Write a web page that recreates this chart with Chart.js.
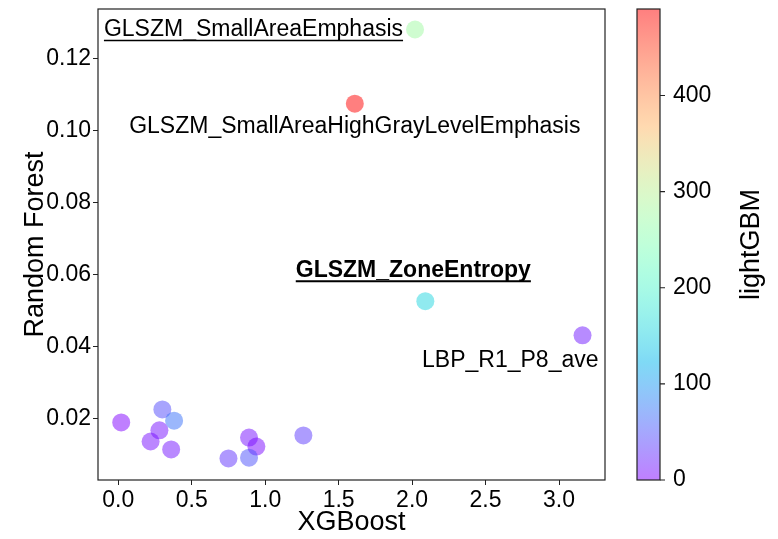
<!DOCTYPE html>
<html>
<head>
<meta charset="utf-8">
<script src="https://cdn.jsdelivr.net/npm/chart.js@4.4.1/dist/chart.umd.min.js"></script>
<style>
  html, body { margin: 0; padding: 0; background: #fff; overflow: hidden; }
  canvas { display: block; }
</style>
</head>
<body>
<canvas id="myChart" width="778" height="539"></canvas>
<script>
// data
const xgboost = [2.02, 1.61, 2.09, 3.16, 0.02, 0.30, 0.38, 0.28, 0.22, 0.36, 0.75, 0.89, 0.94, 0.89, 1.26];
const randomForest = [0.1281, 0.1075, 0.0526, 0.0431, 0.0189, 0.0225, 0.0194, 0.0167, 0.0136, 0.0114, 0.0089, 0.0147, 0.0122, 0.0091, 0.0153];
const lightgbm = [275, 490, 155, 15, 0, 45, 70, 10, 8, 12, 30, 10, 5, 50, 35];
const featureNames = ["GLSZM_SmallAreaEmphasis", "GLSZM_SmallAreaHighGrayLevelEmphasis", "GLSZM_ZoneEntropy", "LBP_R1_P8_ave"];

const xTicks = [0, 0.5, 1, 1.5, 2, 2.5, 3];
const yTicks = [0.02, 0.04, 0.06, 0.08, 0.10, 0.12];
const cbTicks = [0, 100, 200, 300, 400];

const FONT = "'Liberation Sans', Arial, Helvetica, sans-serif";
const cbMin = Math.min(...lightgbm);
const cbMax = Math.max(...lightgbm);

// matplotlib "rainbow" colormap
function rainbow(t, a) {
  const c = v => Math.round(255 * Math.max(0, Math.min(1, v)));
  const r = Math.abs(2 * t - 0.5);
  const g = Math.sin(Math.PI * t);
  const b = Math.cos(Math.PI * t / 2);
  return `rgba(${c(r)},${c(g)},${c(b)},${a})`;
}

const pointColors = lightgbm.map(v => rainbow((v - cbMin) / (cbMax - cbMin), 0.5));

// how each annotated feature is placed relative to its point (pixels)
const labelStyle = [
  { align: "right", dx: -12, dy: 0, bold: false, underline: true },
  { align: "center", dx: 0, dy: 23, bold: false, underline: false },
  { align: "center", dx: -12, dy: -31, bold: true, underline: true },
  { align: "right", dx: 16, dy: 25, bold: false, underline: false }
];

// keep the tick-label padding from pushing the plot area around
function fixSize(w, h) {
  return s => {
    if (w) s.width = w;
    if (h) s.height = h;
    s.paddingTop = 0; s.paddingBottom = 0; s.paddingLeft = 0; s.paddingRight = 0;
  };
}

const extras = {
  id: "extras",
  afterDatasetsDraw(chart) {
    const ctx = chart.ctx;
    const xs = chart.scales.x, ys = chart.scales.y, cb = chart.scales.cb;
    const area = chart.chartArea;

    // annotations
    featureNames.forEach((name, i) => {
      const st = labelStyle[i];
      const px = xs.getPixelForValue(xgboost[i]) + st.dx;
      const py = ys.getPixelForValue(randomForest[i]) + st.dy;
      ctx.save();
      ctx.font = (st.bold ? "bold " : "") + "23px " + FONT;
      ctx.fillStyle = "#000";
      ctx.textAlign = st.align;
      ctx.textBaseline = "middle";
      ctx.fillText(name, px, py);
      if (st.underline) {
        const w = ctx.measureText(name).width;
        let x0 = px;
        if (st.align === "right") x0 = px - w;
        if (st.align === "center") x0 = px - w / 2;
        ctx.strokeStyle = "#000";
        ctx.lineWidth = st.bold ? 2 : 1.5;
        ctx.beginPath();
        ctx.moveTo(x0, py + 11);
        ctx.lineTo(x0 + w, py + 11);
        ctx.stroke();
      }
      ctx.restore();
    });

    // frame round the plot
    ctx.save();
    ctx.strokeStyle = "#222";
    ctx.lineWidth = 1.2;
    ctx.strokeRect(area.left, area.top, area.right - area.left, area.bottom - area.top);

    // colorbar
    const bx = area.right + 32, bw = 23;
    const top = cb.getPixelForValue(cbMax), bot = cb.getPixelForValue(cbMin);
    const grad = ctx.createLinearGradient(0, bot, 0, top);
    for (let k = 0; k <= 40; k++) grad.addColorStop(k / 40, rainbow(k / 40, 0.5));
    ctx.fillStyle = grad;
    ctx.fillRect(bx, top, bw, bot - top);
    ctx.strokeRect(bx, top, bw, bot - top);
    ctx.beginPath();
    cbTicks.forEach(v => {
      const y = cb.getPixelForValue(v);
      ctx.moveTo(bx + bw, y);
      ctx.lineTo(bx + bw + 5, y);
    });
    ctx.stroke();

    // colorbar label
    ctx.translate(752, (top + bot) / 2);
    ctx.rotate(-Math.PI / 2);
    ctx.font = "27px " + FONT;
    ctx.fillStyle = "#000";
    ctx.textAlign = "center";
    ctx.textBaseline = "middle";
    ctx.fillText("lightGBM", 0, 0);
    ctx.restore();
  }
};

const ctx = document.getElementById("myChart");

const chart = new Chart(ctx, {
  type: "scatter",
  data: {
    datasets: [{
      data: xgboost.map((x, i) => ({ x: x, y: randomForest[i] })),
      backgroundColor: pointColors,
      borderWidth: 0,
      pointRadius: 9,
      pointHoverRadius: 9
    }]
  },
  options: {
    responsive: false,
    animation: false,
    layout: { padding: { top: 9, left: 0, right: 0, bottom: 0 } },
    plugins: { legend: { display: false }, tooltip: { enabled: false } },
    scales: {
      x: {
        type: "linear",
        min: -0.138,
        max: 3.313,
        afterBuildTicks: s => { s.ticks = xTicks.map(v => ({ value: v })); },
        afterFit: fixSize(0, 59),
        grid: { drawOnChartArea: false, tickLength: 5, color: "#222" },
        border: { display: false },
        ticks: { color: "#000", font: { size: 23, family: FONT }, padding: 2, maxRotation: 0,
          callback: v => v.toFixed(1) },
        title: { display: true, text: "XGBoost", color: "#000", font: { size: 27, family: FONT },
          padding: { top: 0, bottom: 0 } }
      },
      y: {
        type: "linear",
        min: 0.0029,
        max: 0.1338,
        afterBuildTicks: s => { s.ticks = yTicks.map(v => ({ value: v })); },
        afterFit: fixSize(98, 0),
        grid: { drawOnChartArea: false, tickLength: 5, color: "#222" },
        border: { display: false },
        ticks: { color: "#000", font: { size: 23, family: FONT }, padding: 2,
          callback: v => v.toFixed(2) },
        title: { display: true, text: "Random Forest", color: "#000", font: { size: 27, family: FONT },
          padding: { top: 19, bottom: 0 } }
      },
      cb: {
        type: "linear",
        position: "right",
        min: cbMin,
        max: cbMax,
        afterBuildTicks: s => { s.ticks = cbTicks.map(v => ({ value: v })); },
        afterFit: fixSize(173, 0),
        grid: { display: false, drawTicks: false },
        border: { display: false },
        ticks: { color: "#000", font: { size: 23, family: FONT }, padding: 68 }
      }
    }
  },
  plugins: [extras]
});
</script>
</body>
</html>
